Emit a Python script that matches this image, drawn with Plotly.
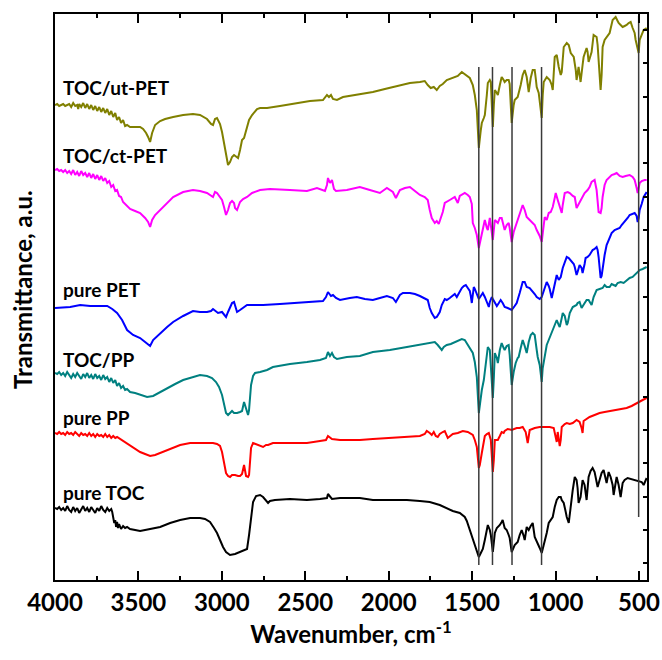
import plotly.graph_objects as go

# ---------------- data (wavenumber in cm-1, transmittance in a.u., offset stacked) -------------
wn_ut_pet = [4000,3987,3975,3963,3951,3939,3927,3915,3903,3891,3879,3867,3861,3855,3843,3831,3819,3807,3795,3783,
             3771,3759,3747,3735,3723,3711,3699,3687,3675,3663,3651,3639,3628,3616,3604,3592,3580,3568,3550,3520,
             3490,3472,3454,3442,3430,3418,3400,3370,3340,3292,3232,3173,3131,3089,3065,3053,3041,3029,3011,2999,
             2987,2975,2963,2951,2939,2927,2915,2903,2891,2879,2867,2855,2837,2819,2789,2771,2729,2652,2550,2472,
             2394,2382,2370,2358,2346,2334,2310,2274,2173,2095,2023,1951,1873,1813,1784,1766,1748,1730,1712,1694,
             1676,1652,1616,1586,1562,1538,1514,1496,1484,1472,1460,1448,1442,1430,1424,1412,1406,1394,1388,1382,
             1376,1370,1364,1352,1346,1334,1323,1311,1305,1293,1281,1275,1263,1251,1245,1233,1227,1209,1197,1185,
             1173,1161,1149,1137,1125,1119,1113,1101,1095,1083,1077,1071,1053,1035,1023,1017,1005,993,981,969,
             963,951,933,921,909,891,879,874,862,856,850,838,832,814,808,802,796,784,772,754,
             748,742,736,730,724,718,706,694,676,658,640,628,622,610,598,586,574,562,550,538,
             526,520,508,502,496,490,472,454]
t_ut_pet = [475,476,474,475,476,474,475,476,473,477,474,475,471,476,473,477,472,476,471,475,
            470,474,469,473,468,472,467,471,465,469,463,467,460,463,457,460,454,455,453,453,
            453,451,447,443,438,447,455,459,461,463,465,466,465,461,456,455,461,462,456,448,
            437,423,415,418,423,425,423,422,430,440,442,450,460,465,471,472,472,474,477,479,
            480,482,485,483,485,481,480,483,486,488,491,494,497,498,499,495,492,493,490,494,
            496,500,502,504,508,505,502,495,485,470,432,450,457,462,465,485,497,500,498,475,
            453,475,490,487,485,495,503,500,498,500,500,496,457,475,480,482,483,495,505,510,
            503,488,502,510,510,502,493,487,480,462,485,498,503,500,495,490,523,525,513,505,
            508,533,537,535,527,523,510,500,513,505,498,515,523,532,528,518,522,528,545,543,
            535,520,500,490,505,533,540,543,547,560,563,559,557,555,553,554,555,557,558,552,
            547,540,532,527,540,543,550,552]

wn_ct_pet = [4000,3987,3975,3963,3951,3939,3927,3915,3903,3891,3879,3867,3855,3843,3831,3819,3807,3795,3783,3771,
             3759,3747,3735,3723,3711,3699,3687,3675,3663,3651,3639,3628,3616,3604,3592,3580,3568,3550,3520,3490,
             3460,3442,3430,3418,3400,3370,3328,3292,3232,3173,3131,3089,3053,3041,3029,3011,2999,2987,2975,2963,
             2951,2939,2927,2921,2909,2891,2873,2849,2819,2771,2712,2592,2490,2430,2382,2370,2364,2352,2340,2328,
             2316,2251,2173,2113,2053,2011,1975,1957,1933,1903,1873,1843,1813,1784,1766,1754,1742,1724,1712,1700,
             1688,1676,1664,1652,1634,1604,1586,1574,1562,1544,1526,1514,1502,1496,1484,1472,1460,1454,1442,1430,
             1424,1412,1406,1394,1388,1376,1364,1352,1346,1334,1323,1311,1305,1293,1281,1275,1263,1251,1233,1215,
             1197,1185,1173,1155,1143,1125,1113,1095,1083,1071,1065,1053,1041,1029,1017,1005,999,987,975,963,
             957,945,927,915,897,885,874,868,856,838,826,808,796,784,766,754,742,730,724,718,
             706,694,676,664,646,634,616,598,580,556,538,526,514,508,496,484,466,454]
t_ct_pet = [410,411,409,410,408,410,407,409,406,410,405,408,404,409,405,407,403,407,402,406,
            401,405,400,404,399,402,397,399,393,395,389,390,384,383,378,376,373,371,369,367,
            362,358,353,360,365,370,377,383,388,390,389,387,383,388,387,382,380,373,365,370,
            377,379,377,372,370,378,381,383,387,390,391,390,389,392,389,395,402,397,400,391,
            389,390,393,390,387,392,388,382,390,392,393,389,385,383,380,370,362,357,359,356,
            362,368,377,378,380,383,377,384,385,387,385,383,376,357,352,345,332,337,347,358,
            360,352,350,362,355,340,360,358,357,362,362,354,350,355,357,352,338,348,357,367,
            375,370,363,360,358,355,350,344,338,355,363,360,367,368,373,382,387,380,373,367,
            375,387,388,387,384,383,372,374,378,384,387,390,393,398,400,390,368,367,372,383,
            395,400,403,405,406,407,404,403,404,405,403,400,392,387,397,399,400,400]

wn_pet = [4000,3909,3849,3789,3729,3687,3657,3628,3598,3568,3532,3490,3460,3430,3412,3370,3328,3292,3232,3173,
          3131,3089,3065,3053,3041,3023,2999,2987,2975,2963,2951,2939,2927,2915,2909,2891,2873,2849,2801,2753,
          2652,2550,2472,2394,2376,2364,2346,2334,2316,2292,2233,2191,2143,2095,2053,2011,1975,1957,1933,1915,
          1873,1843,1813,1784,1766,1754,1742,1724,1712,1694,1682,1664,1652,1634,1616,1604,1592,1580,1562,1550,
          1538,1526,1514,1508,1502,1496,1490,1484,1472,1460,1448,1436,1424,1412,1400,1394,1382,1376,1364,1352,
          1340,1329,1317,1305,1287,1263,1245,1233,1215,1197,1185,1173,1155,1143,1125,1113,1095,1083,1071,1059,
          1053,1041,1035,1023,1011,1005,993,981,969,957,945,933,921,903,891,885,874,868,856,844,
          838,826,820,808,796,778,766,754,748,742,736,730,724,718,706,694,676,664,646,628,
          616,604,586,568,556,538,526,514,508,502,496,484,472,454]
t_pet = [272,273,275,274,274,274,271,267,260,250,245,242,238,234,240,247,253,258,264,269,
         268,268,269,271,269,267,268,265,263,268,273,277,278,271,268,270,272,275,275,275,
         276,277,278,279,283,288,284,285,282,280,282,283,281,280,282,284,282,278,285,287,
         287,286,284,282,280,272,267,262,263,268,275,281,280,282,284,286,283,287,292,294,
         295,292,289,284,277,285,293,291,286,281,284,287,283,278,273,278,283,281,278,274,
         277,280,277,273,272,270,274,277,287,298,298,293,292,290,286,283,281,283,290,297,
         298,294,291,282,290,297,305,300,303,312,318,323,322,318,316,313,305,308,315,312,
         307,316,322,323,325,330,331,333,330,323,310,302,304,313,325,335,342,347,350,351,
         352,355,358,362,365,366,367,364,358,362,370,376,383,388]

wn_toc_pp = [4000,3987,3975,3963,3951,3939,3927,3915,3903,3891,3879,3867,3855,3843,3831,3819,3807,3795,3783,3771,
             3759,3747,3735,3723,3711,3699,3687,3675,3663,3651,3639,3628,3616,3604,3592,3580,3568,3550,3520,3490,
             3448,3412,3370,3328,3280,3232,3173,3131,3089,3059,3035,3017,2999,2987,2975,2963,2951,2939,2927,2909,
             2891,2879,2867,2855,2843,2837,2825,2813,2801,2771,2741,2729,2694,2592,2490,2412,2376,2364,2352,2340,
             2328,2310,2251,2173,2095,1993,1891,1813,1754,1724,1706,1694,1682,1670,1652,1628,1604,1574,1562,1544,
             1526,1514,1496,1484,1472,1460,1454,1442,1430,1424,1412,1406,1394,1388,1376,1370,1364,1352,1346,1334,
             1323,1311,1305,1293,1281,1275,1263,1251,1239,1227,1221,1209,1197,1185,1173,1161,1149,1137,1125,1113,
             1107,1095,1083,1077,1065,1053,1041,1029,1017,1005,993,981,975,963,957,945,933,927,915,897,
             885,874,868,856,844,832,814,802,784,772,754,736,718,706,694,676,664,652,640,628,
             610,592,574,556,538,514,496,478,454]
t_toc_pp = [207,206,208,205,207,204,208,205,202,206,203,207,204,201,206,203,207,202,205,201,
            206,202,204,200,205,201,203,198,202,197,200,194,197,192,194,190,191,188,187,185,
            183,184,188,192,196,200,203,205,204,202,198,193,185,175,167,165,167,169,167,167,
            168,169,178,170,165,170,195,204,207,208,209,210,213,216,218,220,222,228,224,227,
            223,221,223,224,228,230,233,235,237,238,235,232,230,233,235,236,238,240,241,240,
            235,232,227,218,203,167,175,190,200,207,225,233,230,215,182,202,227,222,217,230,
            237,232,230,234,235,225,195,208,217,222,223,232,240,234,227,238,245,247,245,230,
            223,215,198,212,223,235,240,245,250,257,260,255,253,262,267,264,255,257,267,273,
            274,275,277,278,272,275,280,280,275,283,290,291,292,295,293,293,296,295,294,297,
            298,297,300,302,303,307,310,311,313]

wn_pp = [4000,3987,3975,3963,3951,3939,3927,3915,3903,3891,3879,3867,3855,3843,3831,3819,3807,3795,3783,3771,
         3759,3747,3735,3723,3711,3699,3687,3675,3663,3651,3639,3628,3610,3580,3550,3520,3490,3460,3430,3400,
         3352,3298,3250,3190,3131,3053,3029,3011,2999,2987,2975,2963,2951,2939,2921,2903,2891,2879,2867,2855,
         2843,2837,2825,2813,2795,2771,2753,2735,2723,2694,2592,2490,2412,2376,2364,2352,2340,2292,2173,2095,
         1993,1891,1813,1784,1772,1754,1742,1730,1718,1706,1694,1676,1664,1646,1634,1616,1586,1556,1526,1514,
         1496,1484,1472,1460,1454,1442,1430,1424,1412,1400,1388,1376,1370,1364,1352,1346,1334,1323,1311,1305,
         1287,1263,1233,1215,1197,1179,1167,1161,1155,1125,1095,1065,1035,1011,999,993,987,975,969,963,
         945,933,915,897,874,856,844,838,832,814,796,766,736,706,676,646,616,574,544,514,
         496,478,454]
t_pp = [147,146,148,146,147,145,148,146,147,145,148,146,144,147,145,146,144,147,144,146,
        143,146,144,145,143,146,143,145,142,144,142,143,141,138,135,131,128,126,124,125,
        128,132,135,137,137,137,136,134,128,118,107,104,103,105,105,104,104,106,115,104,
        103,105,132,137,136,134,133,135,135,137,137,137,139,140,144,142,141,140,140,141,
        142,143,144,146,149,147,145,148,144,143,146,148,149,142,144,146,147,149,148,147,
        145,140,133,112,115,127,140,144,146,147,140,108,120,140,140,140,144,148,147,149,
        151,150,152,152,153,148,137,142,150,152,153,153,153,152,140,138,148,134,140,153,
        156,157,156,157,160,158,152,147,159,161,163,165,167,168,169,170,171,172,174,177,
        179,180,182]

wn_toc = [4000,3987,3975,3963,3951,3939,3927,3915,3903,3891,3879,3867,3855,3843,3831,3819,3807,3795,3783,3771,
          3759,3747,3735,3723,3711,3699,3687,3675,3663,3657,3651,3645,3639,3634,3628,3622,3616,3604,3592,3580,
          3568,3550,3520,3490,3460,3430,3370,3310,3250,3190,3131,3101,3071,3047,3029,3011,2993,2975,2951,2921,
          2891,2867,2849,2837,2825,2813,2795,2771,2753,2735,2723,2712,2682,2592,2490,2412,2370,2364,2352,2340,
          2292,2173,2095,1993,1891,1813,1754,1694,1652,1616,1574,1544,1532,1514,1496,1484,1472,1460,1448,1436,
          1424,1412,1406,1394,1388,1376,1370,1364,1352,1346,1334,1323,1317,1305,1293,1281,1275,1263,1251,1245,
          1233,1227,1215,1203,1191,1185,1173,1161,1149,1137,1125,1113,1107,1095,1083,1071,1059,1053,1041,1029,
          1017,1005,993,981,969,963,951,939,933,921,909,897,885,874,868,862,850,838,826,814,
          802,790,778,766,760,748,736,724,712,700,694,682,670,658,652,640,634,622,610,598,
          586,568,544,514,496,484,472,460,454]
t_toc = [72,71,73,70,72,69,74,70,68,73,69,72,67,71,74,69,72,68,73,70,
         67,72,69,74,70,68,72,69,71,68,63,57,60,53,58,52,56,51,54,52,
         53,51,50,49,50,51,53,57,60,62,62,61,58,52,47,40,33,28,25,26,
         28,29,31,45,65,78,84,85,83,80,77,79,80,81,80,81,82,86,83,81,
         82,82,80,80,80,79,78,75,72,69,67,63,59,50,40,33,27,23,27,31,
         40,50,55,50,45,28,40,47,52,53,55,58,60,52,50,45,42,28,34,35,
         37,38,45,50,44,40,53,50,54,57,43,39,37,32,27,34,43,47,57,60,
         63,73,80,83,83,80,77,68,63,57,75,90,103,100,92,77,83,100,95,80,
         103,109,112,108,103,93,100,107,110,102,97,108,103,95,85,97,103,95,83,97,
         100,102,101,100,99,98,95,100,102]

series_names = ["TOC/ut-PET", "TOC/ct-PET", "pure PET", "TOC/PP", "pure PP", "pure TOC"]
series_x = [wn_ut_pet, wn_ct_pet, wn_pet, wn_toc_pp, wn_pp, wn_toc]
series_y = [t_ut_pet, t_ct_pet, t_pet, t_toc_pp, t_pp, t_toc]
series_colors = ["#808000", "#FF00FF", "#0000FF", "#008080", "#FF0000", "#000000"]
label_levels = [493, 425, 291, 221, 163, 88]   # a.u. height of each curve label

# characteristic band positions (cm-1) marked with vertical guide lines, with their a.u. extents
band_positions = [1460, 1378, 1261, 1084, 502]
band_low = [15, 15, 15, 15, 63]
band_high = [513, 513, 513, 513, 564]

x_ticks = [4000, 3500, 3000, 2500, 2000, 1500, 1000, 500]

FONT = "Lato"

fig = go.Figure()

for xs, ys, col in zip(series_x, series_y, series_colors):
    fig.add_trace(go.Scatter(x=xs, y=ys, mode="lines",
                             line=dict(color=col, width=2), showlegend=False,
                             hoverinfo="skip"))

for b, lo, hi in zip(band_positions, band_low, band_high):
    fig.add_trace(go.Scatter(x=[b, b], y=[lo, hi], mode="lines",
                             line=dict(color="#3a3a3a", width=1.5), showlegend=False,
                             hoverinfo="skip"))

for name, lvl in zip(series_names, label_levels):
    fig.add_annotation(x=3963, y=lvl, xref="x", yref="y", text="<b>%s</b>" % name,
                       showarrow=False, xanchor="left", yanchor="middle",
                       font=dict(family=FONT, size=19, color="black"))

fig.add_annotation(x=-0.056, y=0.514, xref="paper", yref="paper",
                   text="<b>Transmittance, a.u.</b>", textangle=-90, showarrow=False,
                   xanchor="center", yanchor="middle",
                   font=dict(family=FONT, size=24, color="black"))

fig.update_layout(
    width=662, height=660,
    margin=dict(l=55, r=15, t=14, b=80, autoexpand=False),
    paper_bgcolor="white", plot_bgcolor="white",
    font=dict(family=FONT, color="black"),
    xaxis=dict(range=[4000, 452], tickvals=x_ticks, automargin=False,
               ticktext=["<b>%d</b>" % v for v in x_ticks],
               ticks="inside", ticklen=9, tickwidth=1.5, tickcolor="black",
               minor=dict(ticks="inside", ticklen=4, dtick=250, tick0=0, tickcolor="black", tickwidth=1.5),
               showline=True, linecolor="black", linewidth=2, mirror="allticks",
               showgrid=False, zeroline=False,
               tickfont=dict(family=FONT, size=24, color="black"),
               title=dict(text="<b>Wavenumber, cm<sup>-1</sup></b>", standoff=10,
                          font=dict(family=FONT, size=24, color="black"))),
    yaxis=dict(range=[0, 566], side="right", showticklabels=False, automargin=False,
               ticks="inside", ticklen=4, tickwidth=1.5, tickcolor="black",
               tick0=16.7, dtick=33.33,
               showline=True, linecolor="black", linewidth=2, mirror=True,
               showgrid=False, zeroline=False),
)

fig.write_html("out.html")
